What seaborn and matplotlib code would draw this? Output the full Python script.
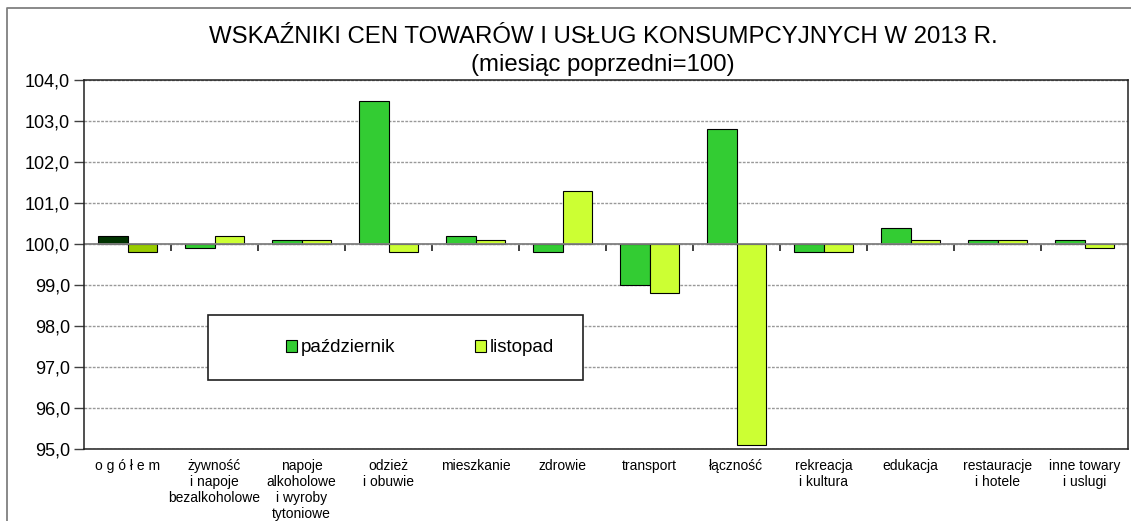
import pandas as pd
import numpy as np
import matplotlib
matplotlib.use("Agg")
import matplotlib.pyplot as plt
from matplotlib.patches import Rectangle
from matplotlib.lines import Line2D
from matplotlib.ticker import FuncFormatter
import seaborn as sns

# data (previous month = 100)
kategorie = ["o g ó ł e m", "żywność\ni napoje\nbezalkoholowe",
             "napoje\nalkoholowe\ni wyroby\ntytoniowe", "odzież\ni obuwie",
             "mieszkanie", "zdrowie", "transport", "łączność",
             "rekreacja\ni kultura", "edukacja", "restauracje\ni hotele",
             "inne towary\ni uslugi"]
pazdziernik = [100.2, 99.9, 100.1, 103.5, 100.2, 99.8, 99.0, 102.8, 99.8, 100.4, 100.1, 100.1]
listopad = [99.8, 100.2, 100.1, 99.8, 100.1, 101.3, 98.8, 95.1, 99.8, 100.1, 100.1, 99.9]
miesiace = ["październik", "listopad"]
kolory = ["#33CC33", "#CCFF33"]
kolory_ogolem = ["#003300", "#99CC00"]
y_ticks = [95, 96, 97, 98, 99, 100, 101, 102, 103, 104]

df = pd.DataFrame({
    "kategoria": kategorie * 2,
    "miesiac": [miesiace[0]] * len(kategorie) + [miesiace[1]] * len(kategorie),
    "wartosc": pazdziernik + listopad,
})
# bars grow from the 100 baseline
df["odchylenie"] = df["wartosc"] - 100

sns.set_style("white")
plt.rcParams["font.family"] = ["Liberation Sans", "DejaVu Sans"]
plt.rcParams["text.color"] = "black"
plt.rcParams["xtick.color"] = "black"
plt.rcParams["ytick.color"] = "black"
plt.rcParams["axes.labelcolor"] = "black"

fig = plt.figure(figsize=(11.31, 5.21), dpi=100)
ax = fig.add_axes([84 / 1131, 1 - 449 / 521, (1128 - 84) / 1131, (449 - 80) / 521])

sns.barplot(data=df, x="kategoria", y="odchylenie", hue="miesiac", order=kategorie,
            hue_order=miesiace, palette=kolory, saturation=1, width=0.67,
            edgecolor="black", linewidth=0.8, ax=ax)

# "ogółem" bars have their own darker colours
ax.containers[0][0].set_facecolor(kolory_ogolem[0])
ax.containers[1][0].set_facecolor(kolory_ogolem[1])

ax.set_ylim(y_ticks[0] - 100, y_ticks[-1] - 100)
ax.set_xlim(-0.5, len(kategorie) - 0.5)
ax.set_yticks([t - 100 for t in y_ticks])
ax.yaxis.set_major_formatter(FuncFormatter(lambda v, p: f"{v + 100:.1f}".replace(".", ",")))
ax.tick_params(axis="y", which="major", left=True, length=7, width=1, color="#404040",
               labelsize=13, pad=3, labelcolor="black")
ax.tick_params(axis="x", length=0, labelsize=10, pad=7, labelcolor="black")
for lab in ax.get_xticklabels():
    lab.set_linespacing(1.2)
ax.set_xlabel("")
ax.set_ylabel("")
ax.yaxis.grid(True, color="#999999", linestyle=(0, (2, 1)), linewidth=1)
ax.set_axisbelow(True)
ax.axhline(0, color="#808080", linewidth=1.3, zorder=1.5)
for s in ax.spines.values():
    s.set_visible(True)
    s.set_color("#202020")
    s.set_linewidth(1.1)

# category separators on the 100 line
sec = ax.secondary_xaxis(5 / 9)
sec.set_xticks(np.arange(0.5, len(kategorie) - 1, 1.0))
sec.tick_params(direction="out", length=5, width=1.2, color="#202020", labelbottom=False,
                labeltop=False, bottom=True, top=False)
sec.spines["bottom"].set_visible(False)
sec.spines["top"].set_visible(False)
sec.xaxis.set_ticks_position("bottom")
sec.set_xticklabels([])

# legend in its own box
handles, labels = ax.get_legend_handles_labels()
ax.get_legend().remove()
fig.patches.append(Rectangle((208 / 1131, 1 - 380 / 521), 375 / 1131, 65 / 521,
                             transform=fig.transFigure, facecolor="white",
                             edgecolor="#202020", linewidth=1.2, zorder=5))
leg = fig.legend(handles, labels, loc="center", bbox_to_anchor=(420 / 1131, 1 - 348 / 521),
                 ncol=2, frameon=False, fontsize=13.5, handlelength=0.55, handleheight=0.55,
                 handletextpad=0.2, columnspacing=4.3)
leg.set_zorder(6)
for h in leg.legend_handles:
    h.set_edgecolor("black")
    h.set_linewidth(0.8)

fig.text(603 / 1131, 1 - 37 / 521, "WSKAŹNIKI CEN TOWARÓW I USŁUG KONSUMPCYJNYCH W 2013 R.",
         ha="center", va="center", fontsize=17.3, color="black")
fig.text(603 / 1131, 1 - 65 / 521, "(miesiąc poprzedni=100)", ha="center", va="center",
         fontsize=17.3, color="black")

# outer frame, cut at the right and bottom
fig.lines.append(Line2D([7 / 1131, 7 / 1131, 1.0], [0.0, 1 - 8 / 521, 1 - 8 / 521],
                        transform=fig.transFigure, color="#808080", linewidth=1.3))

fig.savefig("out.png", dpi=100)
